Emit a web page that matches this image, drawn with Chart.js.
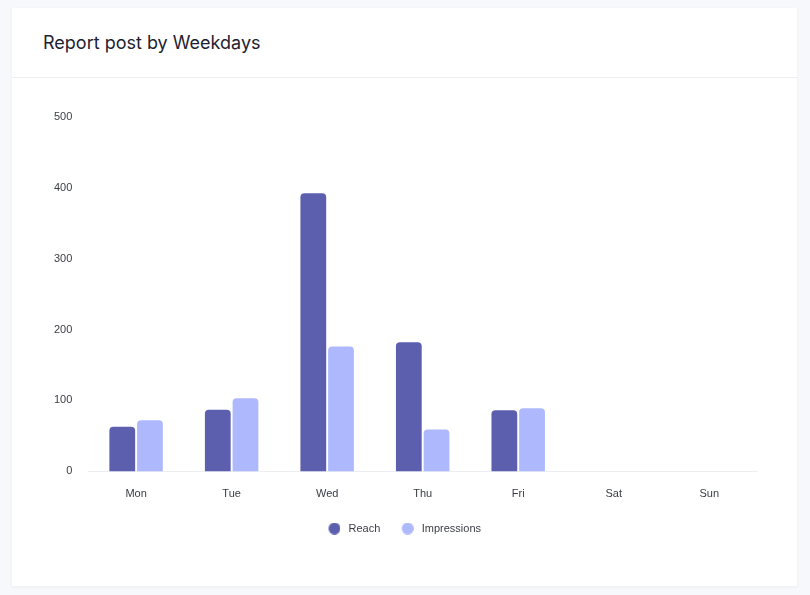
<!DOCTYPE html>
<html>
<head>
<meta charset="utf-8">
<script src="https://cdn.jsdelivr.net/npm/chart.js@4"></script>
<style>
  html, body { margin:0; padding:0; width:810px; height:595px; background:#f7f8fb; overflow:hidden; }
  .card { position:absolute; left:12px; top:8px; width:785px; height:578px; background:#fff;
          box-shadow:0 1px 3px rgba(20,30,60,0.05); }
  .header { position:absolute; left:0; top:0; width:785px; height:69px; border-bottom:1px solid #eceef2; }
  .title { position:absolute; left:31px; top:24px; font-family:Inter, "Noto Sans", sans-serif;
           font-size:18px; font-weight:400; color:#1e2230; letter-spacing:0; }
  .wrap { position:absolute; left:24px; top:94px; width:746px; height:460px; }
</style>
</head>
<body>
<div class="card">
  <div class="header"><div class="title">Report post by Weekdays</div></div>
</div>
<div class="wrap"><canvas id="c"></canvas></div>
<script>
const categories = ["Mon", "Tue", "Wed", "Thu", "Fri", "Sat", "Sun"];
const reach = [63, 87, 392, 182, 86, 0, 0];
const impressions = [72, 103, 176, 59, 89, 0, 0];
const yTicks = [0, 100, 200, 300, 400, 500];
const reachColor = '#5c5fae';
const impressionsColor = '#adb9fc';

// legend marker: a filled dot placed toward the right of a small image
function dot(color) {
  const c = document.createElement('canvas');
  c.width = 24; c.height = 12;
  const g = c.getContext('2d');
  g.fillStyle = color;
  g.beginPath(); g.arc(18, 6, 6, 0, Math.PI * 2); g.fill();
  return c;
}

Chart.defaults.font.family = '"Liberation Sans", Arial, Helvetica, sans-serif';
Chart.defaults.font.size = 11;
Chart.defaults.color = '#3a3d45';

new Chart(document.getElementById('c'), {
  type: 'bar',
  data: {
    labels: categories,
    datasets: [
      { label: 'Reach', data: reach, backgroundColor: reachColor, borderRadius: 4, borderSkipped: 'start',
        barPercentage: 0.93, categoryPercentage: 0.58, pointStyle: dot(reachColor) },
      { label: 'Impressions', data: impressions, backgroundColor: impressionsColor, borderRadius: 4, borderSkipped: 'start',
        barPercentage: 0.93, categoryPercentage: 0.58, pointStyle: dot(impressionsColor) }
    ]
  },
  options: {
    responsive: true,
    maintainAspectRatio: false,
    animation: false,
    layout: { padding: { left: 14, right: 13, top: 0, bottom: 10 } },
    plugins: {
      legend: {
        position: 'bottom',
        labels: { usePointStyle: true, pointStyleWidth: 29, boxHeight: 11, padding: 7,
                  color: '#3a3d45', font: { size: 11, lineHeight: 1 } }
      },
      tooltip: { enabled: false }
    },
    scales: {
      x: {
        grid: { display: false, drawTicks: false },
        border: { display: true, color: '#eceef2', width: 1 },
        ticks: { padding: 19, font: { size: 11, lineHeight: 0.6 } }
      },
      y: {
        min: 0, max: 500,
        afterBuildTicks: (axis) => { axis.ticks = yTicks.map(v => ({ value: v })); },
        grid: { display: false, drawTicks: false },
        border: { display: false },
        ticks: { padding: 16 }
      }
    }
  }
});
</script>
</body>
</html>
